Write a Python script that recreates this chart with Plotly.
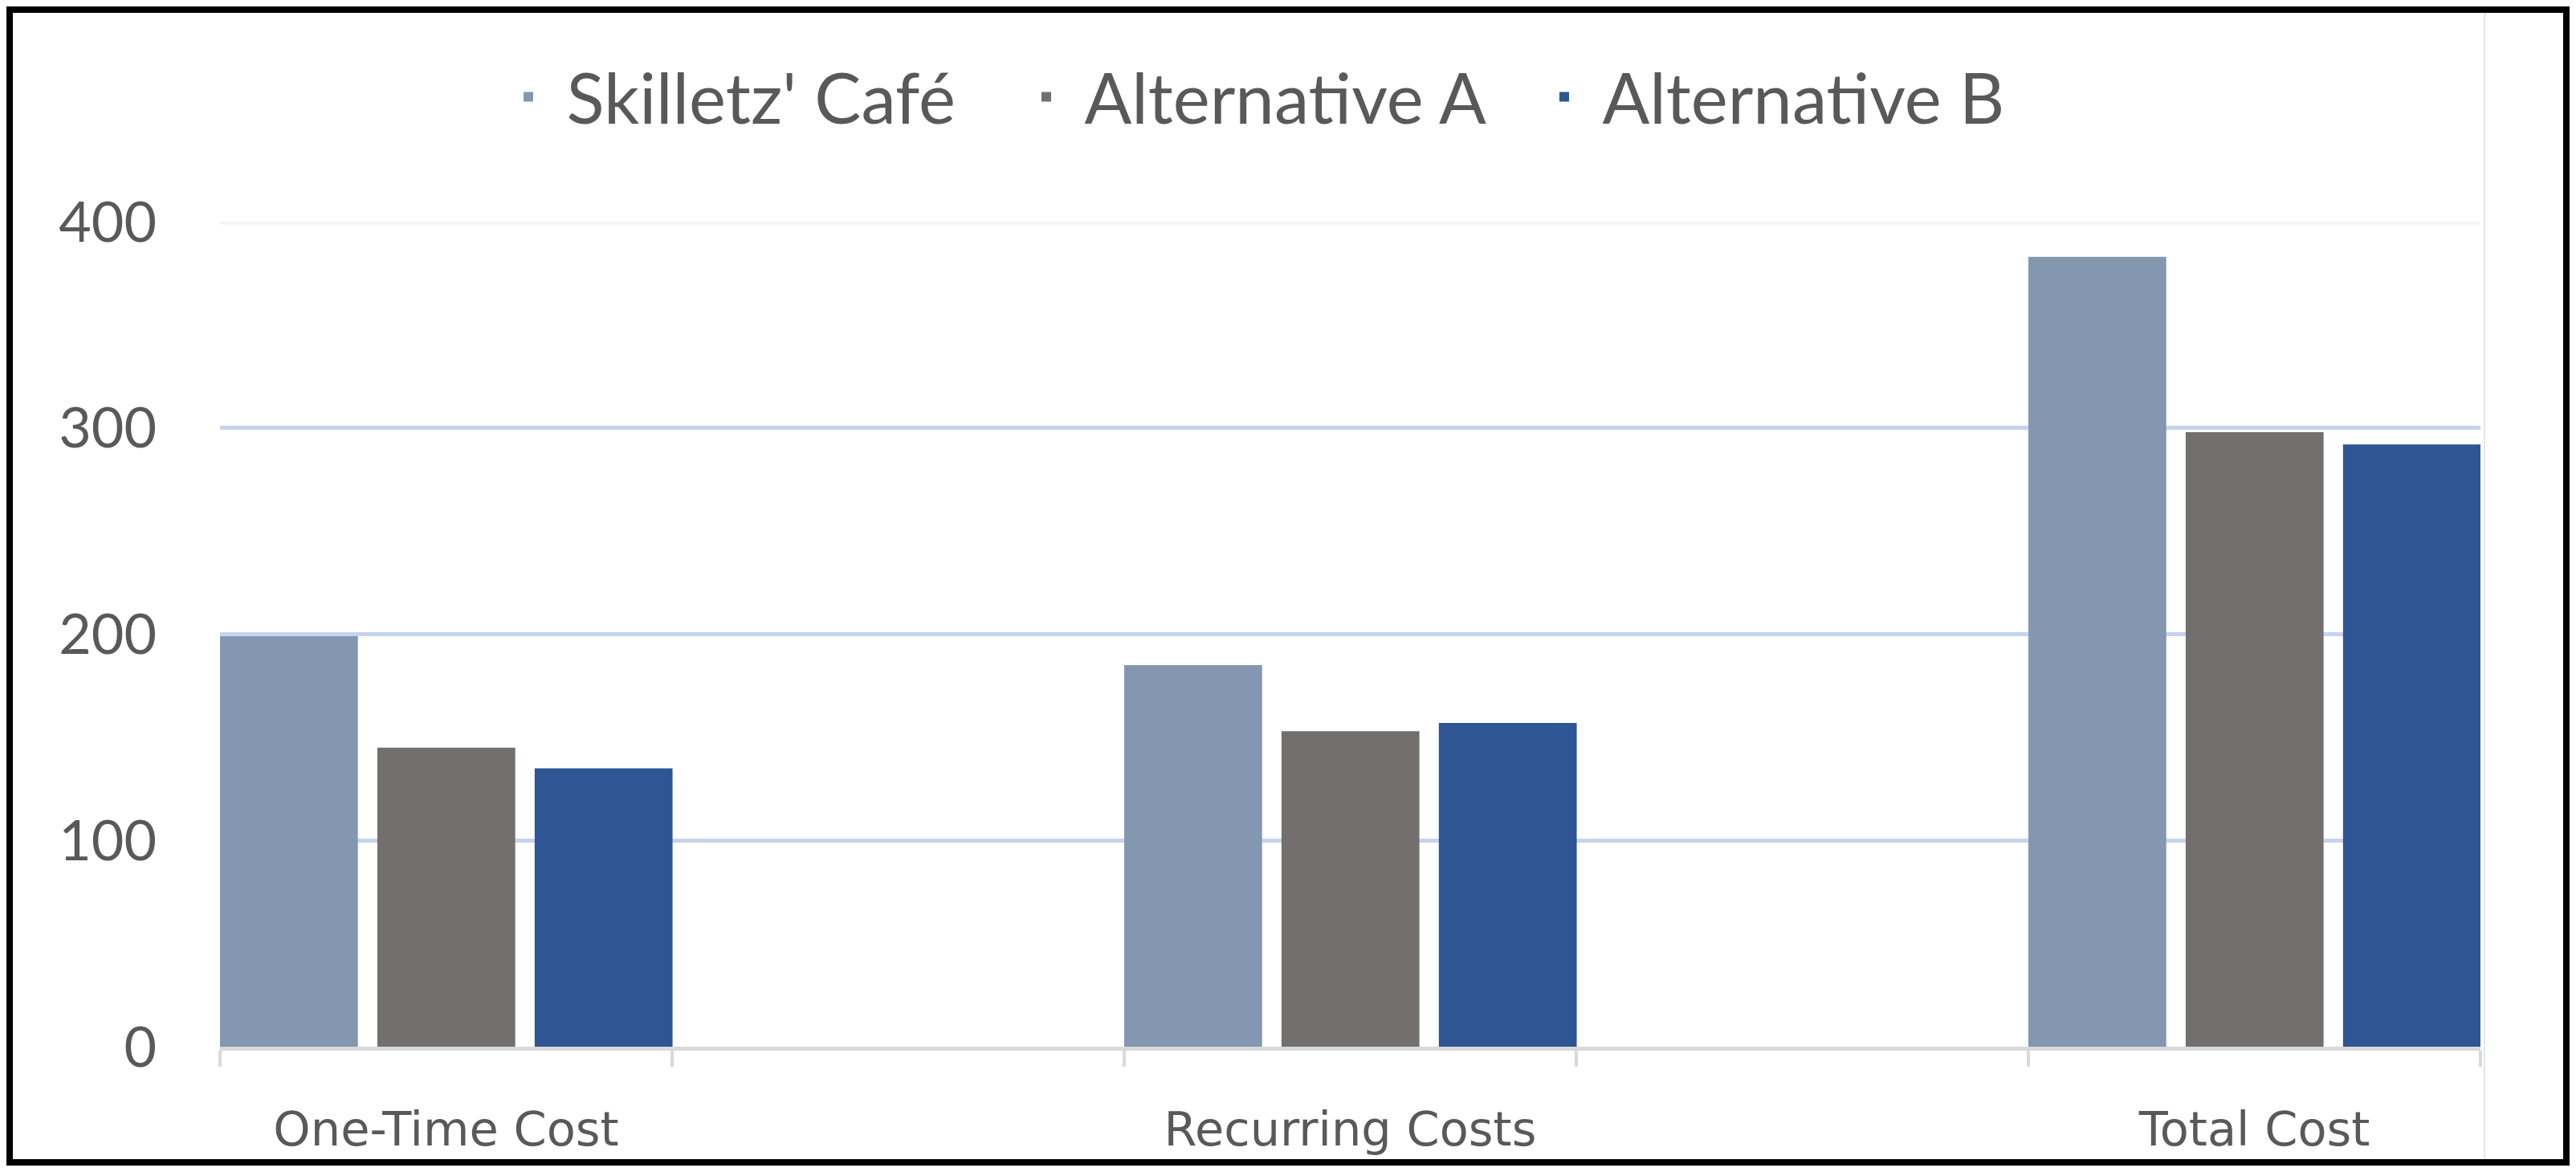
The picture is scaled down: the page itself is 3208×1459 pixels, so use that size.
import plotly.graph_objects as go

categories = ["One-Time Cost", " ", "Recurring Costs", "  ", "Total Cost"]
series_names = ["Skilletz' Café", "Alternative A", "Alternative B"]
skilletz = [199, None, 185, None, 383]
alt_a = [145, None, 153, None, 298]
alt_b = [135, None, 157, None, 292]
y_ticks = [0, 100, 200, 300, 400]

colors = ["#8497B0", "#736F6E", "#2E5594"]
offsets = [-0.5, -0.152, 0.196]

# page body has an 8px margin; figure is placed at (8, 8)
PAD = 8
W, H = 3208 - 2 * PAD, 1459 - 2 * PAD
ml, mt = 274 - PAD, 276 - PAD
mr = W - (3089 - PAD)
mb = H - (1303 - PAD)

fig = go.Figure()
for name, vals, col, off in zip(series_names, [skilletz, alt_a, alt_b], colors, offsets):
    fig.add_trace(go.Bar(x=categories, y=vals, name=name, marker_color=col,
                         marker_line_width=0, width=0.305, offset=off))

pw = W - ml - mr
ph = H - mt - mb
def px_x(px):  # actual screen px -> paper
    return (px - PAD - ml) / pw
def px_y(py):
    return 1 - (py - PAD - mt) / ph

fig.update_layout(
    width=W, height=H,
    margin=dict(l=ml, r=mr, t=mt, b=mb),
    paper_bgcolor="white", plot_bgcolor="white",
    barmode="group",
    font=dict(family="Lato", color="#595959"),
    showlegend=True,
    legend=dict(orientation="h", xref="container", yref="container",
                x=(1578 - PAD) / W, y=1 - (121 - PAD) / H, xanchor="center", yanchor="middle",
                font=dict(size=87, family="Lato", color="#595959"),
                itemwidth=85, tracegroupgap=0, entrywidth=545, entrywidthmode="pixels"),
    xaxis=dict(type="category", categoryorder="array", categoryarray=categories,
               tickson="boundaries", ticks="outside", ticklen=20, tickwidth=4,
               tickcolor="#D9D9D9", showline=True, linecolor="#D9D9D9", linewidth=5,
               showgrid=False, tickfont=dict(size=59, family="DejaVu Sans", color="#595959"),
               ticklabelstandoff=47, range=[-0.5, 4.5], fixedrange=True),
    yaxis=dict(range=[0, 400], tickvals=y_ticks, showgrid=True, gridcolor="#C5D4EE",
               gridwidth=5, zeroline=False, showline=False, ticks="",
               tickfont=dict(size=70, family="Lato", color="#595959"),
               ticklabelstandoff=78),
    shapes=[
        dict(type="line", xref="paper", yref="y", x0=0, x1=1, y0=400, y1=400,
             line=dict(color="#F3F4F8", width=7), layer="above"),
        dict(type="line", xref="paper", yref="paper",
             x0=px_x(3094), x1=px_x(3094),
             y0=px_y(12), y1=px_y(1459 - 12),
             line=dict(color="#E6E6E6", width=2)),
        dict(type="rect", xref="paper", yref="paper",
             x0=px_x(PAD), x1=px_x(3208 - PAD),
             y0=px_y(PAD), y1=px_y(1459 - PAD),
             line=dict(color="black", width=16)),
    ],
)

fig.write_html("out.html")
